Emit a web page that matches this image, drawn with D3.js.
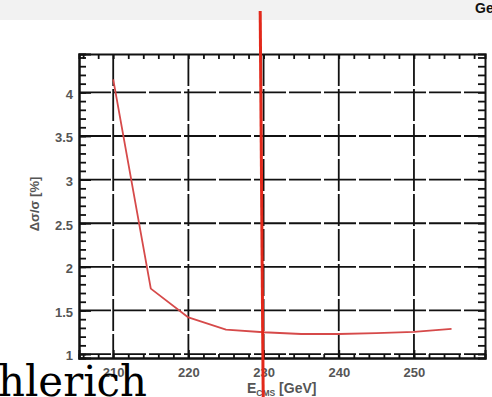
<!DOCTYPE html>
<html>
<head>
<meta charset="utf-8">
<script src="https://cdn.jsdelivr.net/npm/d3@7"></script>
<style>
  html, body { margin: 0; padding: 0; background: #fff; }
  svg { display: block; }
</style>
</head>
<body>
<svg id="chart" width="492" height="397"></svg>
<script>
// Relative cross-section uncertainty versus centre-of-mass energy
const energies = [210, 215, 220, 225, 230, 235, 240, 245, 250, 255];
const deltaSigma = [4.15, 1.75, 1.42, 1.28, 1.25, 1.23, 1.23, 1.24, 1.255, 1.29];

const xMajorTicks = [210, 220, 230, 240, 250];
const xTickLabels = ["210", "220", "230", "240", "250"];
const yMajorTicks = [1, 1.5, 2, 2.5, 3, 3.5, 4];
const yTickLabels = ["1", "1.5", "2", "2.5", "3", "3.5", "4"];

// energy marker (vertical cursor) drawn across the page
const cursorEnergy = [229.55, 229.95];

const headerText = "Ge";
const overlayWord = "hlerich";

const svg = d3.select("#chart");
const W = 492, H = 397;
const frame = { left: 79, right: 485, top: 54, bottom: 358 };

const x = d3.scaleLinear().domain([205.45, 259.45]).range([frame.left, frame.right]);
const y = d3.scaleLinear().domain([0.955, 4.44]).range([frame.bottom, frame.top]);

// header strip
svg.append("rect").attr("x", 0).attr("y", 0).attr("width", W).attr("height", 20).attr("fill", "#f2f2f2");
svg.append("text").attr("x", 475).attr("y", 13)
  .attr("font-family", "Liberation Sans, Arial, sans-serif")
  .attr("font-weight", "bold").attr("font-size", 14).attr("fill", "#111")
  .text(headerText);

// dashed grid
const grid = svg.append("g").attr("stroke", "#111").attr("stroke-width", 1.8).attr("stroke-dasharray", "32,3");
grid.selectAll("line.v").data(xMajorTicks).join("line").attr("class", "v")
  .attr("x1", d => x(d)).attr("x2", d => x(d))
  .attr("y1", frame.top).attr("y2", frame.bottom);
grid.selectAll("line.h").data(yMajorTicks).join("line").attr("class", "h")
  .attr("y1", d => y(d)).attr("y2", d => y(d))
  .attr("x1", frame.left).attr("x2", frame.right);

const xMinor = d3.range(206, 259, 2);
const yMinor = d3.range(10, 45, 1).map(v => v / 10);

function styleAxis(g) {
  g.selectAll(".domain").attr("stroke", "#111").attr("stroke-width", 2);
  g.selectAll(".tick line").attr("stroke", "#111").attr("stroke-width", 1.8);
}
const labelFont = g => g.attr("font-family", "Liberation Sans, Arial, sans-serif")
  .attr("font-size", 13).attr("font-weight", "bold");

// minor ticks on all four sides, pointing inward
svg.append("g").attr("transform", `translate(0,${frame.top})`)
  .call(d3.axisTop(x).tickValues(xMinor).tickSize(-5).tickFormat(""))
  .call(styleAxis);
svg.append("g").attr("transform", `translate(0,${frame.bottom})`)
  .call(d3.axisBottom(x).tickValues(xMinor).tickSize(-4).tickFormat(""))
  .call(styleAxis);
svg.append("g").attr("transform", `translate(${frame.left},0)`)
  .call(d3.axisLeft(y).tickValues(yMinor).tickSize(-7).tickFormat(""))
  .call(styleAxis);
svg.append("g").attr("transform", `translate(${frame.right},0)`)
  .call(d3.axisRight(y).tickValues(yMinor).tickSize(-7).tickFormat(""))
  .call(styleAxis);

// labelled major axes
const xAxis = svg.append("g").attr("transform", `translate(0,${frame.bottom})`)
  .call(d3.axisBottom(x).tickValues(xMajorTicks).tickSize(-8).tickPadding(10)
    .tickFormat((d, i) => xTickLabels[i]))
  .call(styleAxis).call(labelFont);
xAxis.selectAll(".tick text").attr("fill", "#555");

const yAxis = svg.append("g").attr("transform", `translate(${frame.left},0)`)
  .call(d3.axisLeft(y).tickValues(yMajorTicks).tickSize(-12).tickPadding(6)
    .tickFormat((d, i) => yTickLabels[i]))
  .call(styleAxis).call(labelFont);
yAxis.selectAll(".tick text").attr("fill", "#555").attr("dy", "0.45em");

// axis titles
const xTitle = svg.append("text").attr("x", 247).attr("y", 393)
  .attr("font-family", "Liberation Sans, Arial, sans-serif").attr("font-size", 14)
  .attr("font-weight", "bold").attr("fill", "#555");
xTitle.append("tspan").text("E");
xTitle.append("tspan").attr("font-size", 8.5).attr("dy", 3).text("CMS");
xTitle.append("tspan").attr("dy", -3).text(" [GeV]");

svg.append("text").attr("transform", "translate(39,204) rotate(-90)")
  .attr("text-anchor", "middle")
  .attr("font-family", "Liberation Sans, Arial, sans-serif").attr("font-size", 13)
  .attr("font-weight", "bold").attr("fill", "#555")
  .text("Δσ/σ [%]");

// curve
const pts = energies.map((e, i) => [e, deltaSigma[i]]);
svg.append("path").datum(pts)
  .attr("fill", "none").attr("stroke", "#d64a4a").attr("stroke-width", 1.8)
  .attr("stroke-linejoin", "round")
  .attr("d", d3.line().x(d => x(d[0])).y(d => y(d[1])));

// overlay word
svg.append("text").attr("x", -2).attr("y", 396)
  .attr("font-family", "DejaVu Serif, serif").attr("font-size", 42).attr("fill", "#000")
  .attr("textLength", 149).attr("lengthAdjust", "spacingAndGlyphs")
  .text(overlayWord);

// vertical cursor line
svg.append("line")
  .attr("x1", x(cursorEnergy[0])).attr("x2", x(cursorEnergy[1]))
  .attr("y1", 11).attr("y2", H)
  .attr("stroke", "#e2281a").attr("stroke-width", 3);
</script>
</body>
</html>
